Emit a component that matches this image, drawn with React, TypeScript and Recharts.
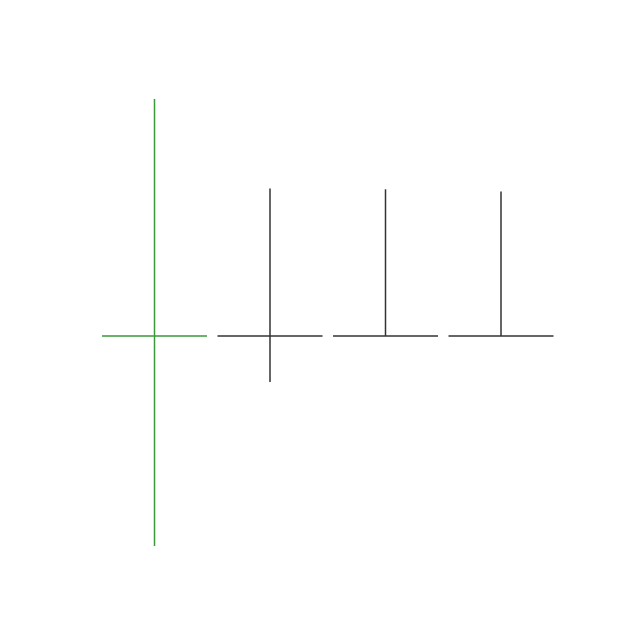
import { ComposedChart, Bar, XAxis, YAxis } from "recharts";

const days = ["D1", "D2", "D3", "D4"];
const opens = [47, 47, 47, 47];
const highs = [100, 80, 79.8, 79.3];
const lows = [0, 36.7, 47, 47];
const closes = [47, 47, 47, 47];

const highlighted = 0;

const data = days.map((name, i) => ({
  name,
  open: opens[i],
  high: highs[i],
  low: lows[i],
  close: closes[i],
  range: [lows[i], highs[i]],
}));

const Candle = (props: any) => {
  const { x, y, width, height, payload, index } = props;
  const { open, high, low } = payload;
  const color = index === highlighted ? "#3a9a3a" : "#333333";
  const cx = x + width / 2;
  const span = high - low || 1;
  const oy = y + ((high - open) / span) * height;
  return (
    <g>
      <line x1={cx} y1={y} x2={cx} y2={y + height} stroke={color} strokeWidth={1.5} />
      <line x1={x} y1={oy} x2={x + width} y2={oy} stroke={color} strokeWidth={1.5} />
    </g>
  );
};

export default function App() {
  return (
    <div style={{ position: "absolute", left: 0, top: 0, background: "#fff" }}>
      <ComposedChart
        width={640}
        height={640}
        data={data}
        margin={{ top: 99, right: 81, bottom: 94, left: 97 }}
      >
        <XAxis dataKey="name" hide />
        <YAxis hide domain={[0, 100]} />
        <Bar dataKey="range" barSize={105} shape={<Candle />} isAnimationActive={false} />
      </ComposedChart>
    </div>
  );
}
